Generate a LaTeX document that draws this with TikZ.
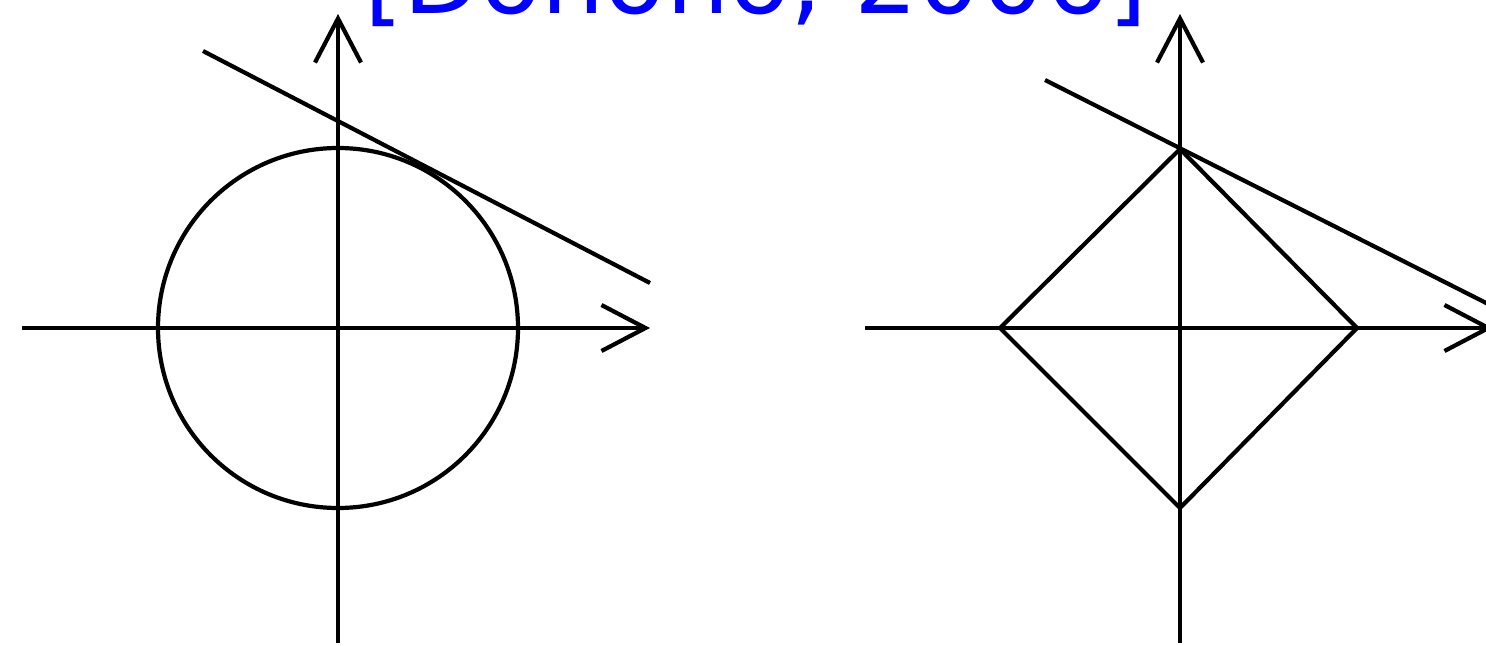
\documentclass[tikz,border=0pt]{standalone}
\usepackage{fontspec}
\setmainfont{DejaVu Sans}
\usetikzlibrary{arrows.meta}
\definecolor{citeblue}{RGB}{0,0,255}
\tikzset{
  ln/.style={line width=2.1pt, black},
  axis/.style={ln, -{Straight Barb[length=22pt,width=23pt,line width=2.1pt]}},
}
\begin{document}
\begin{tikzpicture}[x=0.5pt,y=-0.5pt]
\useasboundingbox (0,0) rectangle (1486,646);
\clip (0,0) rectangle (1486,646);
\node[anchor=base, text=citeblue, font=\fontsize{50}{60}\selectfont, inner sep=0pt] (cite) at (756,14) {[Donoho, 2006]};
% left: L2 ball
\coordinate (lo) at (338,328);
\draw[ln] (lo) circle [radius=180];
\draw[axis] (22,328) -- (650,328);
\draw[axis] (338,643) -- (338,14);
\draw[ln] (203,51) -- (650,283);
% right: L1 ball
\coordinate (rt) at (1180,149);
\coordinate (rr) at (1357,328);
\coordinate (rb) at (1180,508);
\coordinate (rl) at (1000,328);
\draw[ln, line join=miter] (rt) -- (rr) -- (rb) -- (rl) -- cycle;
\draw[axis] (865,328) -- (1493,328);
\draw[axis] (1180,643) -- (1180,14);
\draw[ln] (1045,80) -- (1500,310);
\end{tikzpicture}
\end{document}
